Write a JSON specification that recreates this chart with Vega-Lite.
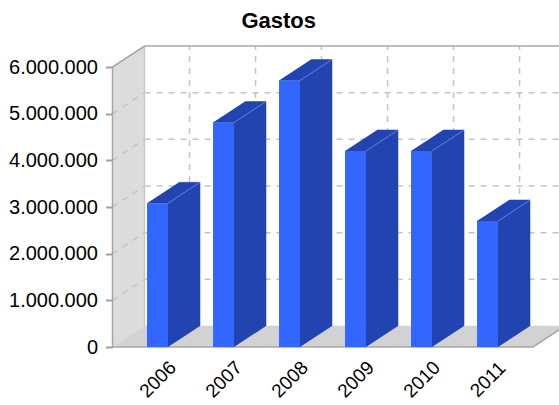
{
"$schema":"https://vega.github.io/schema/vega-lite/v6.json",
"width":446.5,"height":301,
"autosize":{"type":"none"},
"padding":{"left":112.5,"top":46,"right":0,"bottom":58},
"background":"white",
"title":{"text":"Gastos","font":"Liberation Sans","fontSize":22,"fontWeight":"bold","color":"#000000","anchor":"middle","dx":-57,"offset":10},
"config":{"view":{"stroke":null}},
"datasets":{
"bars":[{"year":2006,"value":3080000},{"year":2007,"value":4810000},{"year":2008,"value":5710000},{"year":2009,"value":4200000},{"year":2010,"value":4200000},{"year":2011,"value":2700000}],
"levels":[{"level":1000000},{"level":2000000},{"level":3000000},{"level":4000000},{"level":5000000}],
"frame":[
{"part":"wall","o":0,"x":2005.318,"y":0},{"part":"wall","o":1,"x":2005.318,"y":6000000},{"part":"wall","o":2,"x":2005.803,"y":6450000},{"part":"wall","o":3,"x":2005.803,"y":450000},
{"part":"floor","o":0,"x":2005.318,"y":0},{"part":"floor","o":1,"x":2005.803,"y":450000},{"part":"floor","o":2,"x":2012.174,"y":450000},{"part":"floor","o":3,"x":2011.689,"y":0},
{"part":"outline","o":0,"x":2005.318,"y":0},{"part":"outline","o":1,"x":2005.318,"y":6000000},{"part":"outline","o":2,"x":2005.803,"y":6450000},{"part":"outline","o":3,"x":2012.2,"y":6450000},
{"part":"base","o":0,"x":2005.318,"y":0},{"part":"base","o":1,"x":2011.689,"y":0},{"part":"base","o":2,"x":2012.174,"y":450000},
{"part":"edge","o":0,"x":2005.803,"y":450000},{"part":"edge","o":1,"x":2005.803,"y":6450000}
]},
"layer":[
{"data":{"name":"frame"},"transform":[{"filter":"datum.part=='wall'"}],
 "mark":{"type":"line","fill":"#dcdcdc","stroke":"#dcdcdc","strokeWidth":0.5},
 "encoding":{
  "x":{"field":"x","type":"quantitative","scale":{"domain":[2005.318,2012.083],"nice":false,"zero":false},
       "axis":{"values":[2006,2007,2008,2009,2010,2011],"format":"d","title":null,"grid":false,"ticks":false,"domain":false,"labelAngle":-45,"labelAlign":"center","labelBaseline":"middle","labelPadding":32,"labelFont":"Liberation Sans","labelFontSize":19,"labelColor":"#000000","labelOverlap":false}},
  "y":{"field":"y","type":"quantitative","scale":{"domain":[0,6450000],"nice":false,"zero":false},
       "axis":{"values":[0,1000000,2000000,3000000,4000000,5000000,6000000],"labelExpr":"replace(format(datum.value,','),/,/g,'.')","title":null,"grid":false,"domain":false,"tickSize":7,"tickWidth":2,"tickColor":"#a0a0a0","labelPadding":8,"labelFont":"Liberation Sans","labelFontSize":20,"labelColor":"#000000"}},
  "order":{"field":"o","type":"quantitative"}}},
{"data":{"name":"frame"},"transform":[{"filter":"datum.part=='floor'"}],
 "mark":{"type":"line","fill":"#d2d2d2","stroke":"#d2d2d2","strokeWidth":0.5},
 "encoding":{"x":{"field":"x","type":"quantitative"},"y":{"field":"y","type":"quantitative"},"order":{"field":"o","type":"quantitative"}}},
{"data":{"name":"levels"},"transform":[{"calculate":"datum.level+450000","as":"back"}],
 "mark":{"type":"rule","stroke":"#c4c4c4","strokeWidth":1.5,"strokeDash":[6,6]},
 "encoding":{"y":{"field":"back","type":"quantitative"},"x":{"datum":2005.803},"x2":{"datum":2012.2}}},
{"data":{"name":"bars"},"transform":[{"calculate":"datum.year+0.485","as":"bx"}],
 "mark":{"type":"rule","stroke":"#c4c4c4","strokeWidth":1.5,"strokeDash":[6,6]},
 "encoding":{"x":{"field":"bx","type":"quantitative"},"y":{"datum":450000},"y2":{"datum":6450000}}},
{"data":{"name":"levels"},"transform":[{"calculate":"[0,1]","as":"t"},{"flatten":["t"]},{"calculate":"2005.318+datum.t*0.485","as":"px"},{"calculate":"datum.level+datum.t*450000","as":"py"}],
 "mark":{"type":"line","stroke":"#c4c4c4","strokeWidth":1.5,"strokeDash":[6,6]},
 "encoding":{"x":{"field":"px","type":"quantitative"},"y":{"field":"py","type":"quantitative"},"detail":{"field":"level"},"order":{"field":"t","type":"quantitative"}}},
{"data":{"name":"frame"},"transform":[{"filter":"datum.part=='edge'"}],
 "mark":{"type":"line","stroke":"#c8c8c8","strokeWidth":1.5},
 "encoding":{"x":{"field":"x","type":"quantitative"},"y":{"field":"y","type":"quantitative"},"order":{"field":"o","type":"quantitative"}}},
{"data":{"name":"frame"},"transform":[{"filter":"datum.part=='outline'"}],
 "mark":{"type":"line","stroke":"#a6a6a6","strokeWidth":1.5},
 "encoding":{"x":{"field":"x","type":"quantitative"},"y":{"field":"y","type":"quantitative"},"order":{"field":"o","type":"quantitative"}}},
{"data":{"name":"frame"},"transform":[{"filter":"datum.part=='base'"}],
 "mark":{"type":"line","stroke":"#a6a6a6","strokeWidth":1.5},
 "encoding":{"x":{"field":"x","type":"quantitative"},"y":{"field":"y","type":"quantitative"},"order":{"field":"o","type":"quantitative"}}},
{"data":{"name":"bars"},"transform":[{"calculate":"[0,1,2,3]","as":"t"},{"flatten":["t"]},
  {"calculate":"datum.year+0.159+(datum.t>=2?0.485:0)","as":"px"},
  {"calculate":"datum.t==0?0:datum.t==1?datum.value:datum.t==2?datum.value+450000:450000","as":"py"}],
 "mark":{"type":"line","fill":"#2244b0","stroke":"#2244b0","strokeWidth":0.5},
 "encoding":{"x":{"field":"px","type":"quantitative"},"y":{"field":"py","type":"quantitative"},"detail":{"field":"year"},"order":{"field":"t","type":"quantitative"}}},
{"data":{"name":"bars"},"transform":[{"calculate":"[0,1,2,3]","as":"t"},{"flatten":["t"]},
  {"calculate":"datum.year+(datum.t==0?-0.159:datum.t==1?0.159:datum.t==2?0.644:0.326)","as":"px"},
  {"calculate":"datum.t<2?datum.value:datum.value+450000","as":"py"}],
 "mark":{"type":"line","fill":"#2244b0","stroke":"#2244b0","strokeWidth":0.5},
 "encoding":{"x":{"field":"px","type":"quantitative"},"y":{"field":"py","type":"quantitative"},"detail":{"field":"year"},"order":{"field":"t","type":"quantitative"}}},
{"data":{"name":"bars"},"transform":[{"calculate":"[0,1]","as":"t"},{"flatten":["t"]},
  {"calculate":"datum.year+0.159+datum.t*0.485","as":"px"},
  {"calculate":"datum.value+datum.t*450000","as":"py"}],
 "mark":{"type":"line","stroke":"#6f8ae6","strokeWidth":0.8},
 "encoding":{"x":{"field":"px","type":"quantitative"},"y":{"field":"py","type":"quantitative"},"detail":{"field":"year"},"order":{"field":"t","type":"quantitative"}}},
{"data":{"name":"bars"},"transform":[{"calculate":"datum.year-0.159","as":"x0"},{"calculate":"datum.year+0.159","as":"x1"}],
 "mark":{"type":"rect","fill":"#3366ff"},
 "encoding":{"x":{"field":"x0","type":"quantitative"},"x2":{"field":"x1"},"y":{"field":"value","type":"quantitative"},"y2":{"datum":0}}}
]}
